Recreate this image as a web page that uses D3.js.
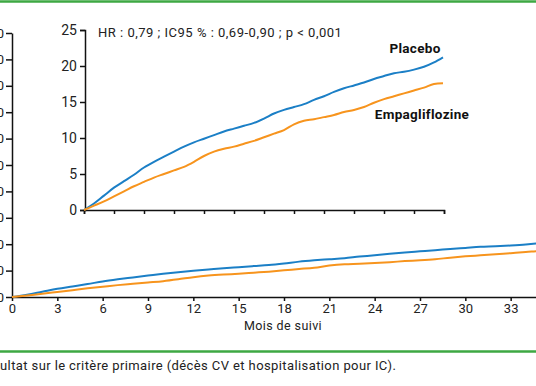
<!DOCTYPE html>
<html>
<head>
<meta charset="utf-8">
<script src="https://cdn.jsdelivr.net/npm/d3@7"></script>
<style>
  body { margin: 0; background: #fff; }
  svg { display: block; font-family: Roboto, sans-serif; }
</style>
</head>
<body>
<svg id="chart" width="536" height="386"></svg>
<script>
// months of follow-up
let months = [0,1,2,3,4,5,6,7,8,9,10,11,12,13,14,15,16,17,18,19,20,21,22,23,24,25,26,27,28,29,30,31,32,33,34,35,35.9];
// cumulative incidence (%)
let placebo = [0,0.9,2.0,3.1,4.0,4.9,5.9,6.7,7.4,8.1,8.8,9.4,9.9,10.4,10.9,11.3,11.7,12.1,12.7,13.4,13.9,14.3,14.7,15.3,15.8,16.4,16.9,17.3,17.7,18.2,18.6,19.0,19.2,19.5,19.9,20.5,21.2];
let empa = [0,0.6,1.2,1.9,2.6,3.3,3.9,4.5,5.0,5.5,6.0,6.7,7.5,8.1,8.5,8.8,9.2,9.6,10.1,10.6,11.1,11.9,12.4,12.6,12.9,13.2,13.6,13.9,14.3,14.9,15.4,15.8,16.2,16.6,17.0,17.5,17.6];

let mainXTicks = [0,3,6,9,12,15,18,21,24,27,30,33];
let mainYTicks = [0,10,20,30,40,50,60,70,80,90,100];
let insetXTicks = [0,3,6,9,12,15,18,21,24,27,30,33,36];
let insetYTicks = [0,5,10,15,20,25];

let statsText = "HR : 0,79 ; IC95 % : 0,69-0,90 ; p < 0,001";
let caption = "ultat sur le critère primaire (décès CV et hospitalisation pour IC).";

let blue = "#1b7fc6";
let orange = "#f7941d";
let green = "#3ea843";

let svg = d3.select("#chart");

// frame lines
svg.append("line").attr("x1", 0).attr("x2", 536).attr("y1", 1.5).attr("y2", 1.5)
    .attr("stroke", green).attr("stroke-width", 2.5);
svg.append("line").attr("x1", 0).attr("x2", 536).attr("y1", 351.5).attr("y2", 351.5)
    .attr("stroke", green).attr("stroke-width", 2.5);

function styleAxis(g, size) {
    g.selectAll("path, line").attr("stroke", "#111").attr("stroke-width", 1.5);
    g.selectAll("text").attr("fill", "#222").style("font-size", size)
        .style("font-family", "Roboto, sans-serif");
}

// main chart (left part of the figure is cropped, as in the source)
let x = d3.scaleLinear().domain([0, 36]).range([12, 556]);
let y = d3.scaleLinear().domain([0, 100]).range([297, 33]);

svg.append("g")
    .attr("transform", "translate(0,297)")
    .call(d3.axisBottom(x).tickValues(mainXTicks).tickSize(4).tickSizeOuter(0).tickPadding(3))
    .call(g => styleAxis(g, "13px"));

svg.append("g")
    .attr("transform", "translate(12,0)")
    .call(d3.axisLeft(y).tickValues(mainYTicks).tickSize(6).tickSizeOuter(0).tickPadding(2))
    .call(g => styleAxis(g, "13px"));

svg.append("text")
    .attr("x", 283).attr("y", 330)
    .attr("text-anchor", "middle")
    .style("font-size", "12.5px").style("letter-spacing", "0.4px").attr("fill", "#222")
    .text("Mois de suivi");

let line = d3.line().x((d, i) => x(months[i])).y(d => y(d)).curve(d3.curveMonotoneX);
svg.append("path").datum(placebo).attr("d", line)
    .attr("fill", "none").attr("stroke", blue).attr("stroke-width", 2);
svg.append("path").datum(empa).attr("d", line)
    .attr("fill", "none").attr("stroke", orange).attr("stroke-width", 2);

// inset chart
let ix = d3.scaleLinear().domain([0, 36]).range([84, 444]);
let iy = d3.scaleLinear().domain([0, 25]).range([210, 30]);

svg.append("rect").attr("x", 40).attr("y", 20).attr("width", 440).attr("height", 205).attr("fill", "#fff");

svg.append("g")
    .attr("transform", "translate(0,210)")
    .call(d3.axisBottom(ix).tickValues(insetXTicks).tickSize(4).tickFormat(""))
    .call(g => styleAxis(g, "13px"));

svg.append("g")
    .attr("transform", "translate(85,0)")
    .call(d3.axisLeft(iy).tickValues(insetYTicks).tickSize(5).tickPadding(3))
    .call(g => styleAxis(g, "14px"));

let iline = d3.line().x((d, i) => ix(months[i])).y(d => iy(d)).curve(d3.curveMonotoneX);
svg.append("path").datum(placebo).attr("d", iline)
    .attr("fill", "none").attr("stroke", blue).attr("stroke-width", 2);
svg.append("path").datum(empa).attr("d", iline)
    .attr("fill", "none").attr("stroke", orange).attr("stroke-width", 2);

svg.append("text").attr("x", 98).attr("y", 37)
    .style("font-size", "13px").style("letter-spacing", "0.5px").attr("fill", "#222").text(statsText);
svg.append("text").attr("x", 415).attr("y", 53).attr("text-anchor", "middle")
    .style("font-size", "13.5px").style("font-weight", "bold").style("letter-spacing", "0.3px")
    .attr("fill", "#111").text("Placebo");
svg.append("text").attr("x", 422).attr("y", 119).attr("text-anchor", "middle")
    .style("font-size", "13.5px").style("font-weight", "bold").style("letter-spacing", "0.3px")
    .attr("fill", "#111").text("Empagliflozine");

svg.append("text").attr("x", 0).attr("y", 370)
    .style("font-size", "13px").style("letter-spacing", "0.4px").attr("fill", "#222").text(caption);
</script>
</body>
</html>
